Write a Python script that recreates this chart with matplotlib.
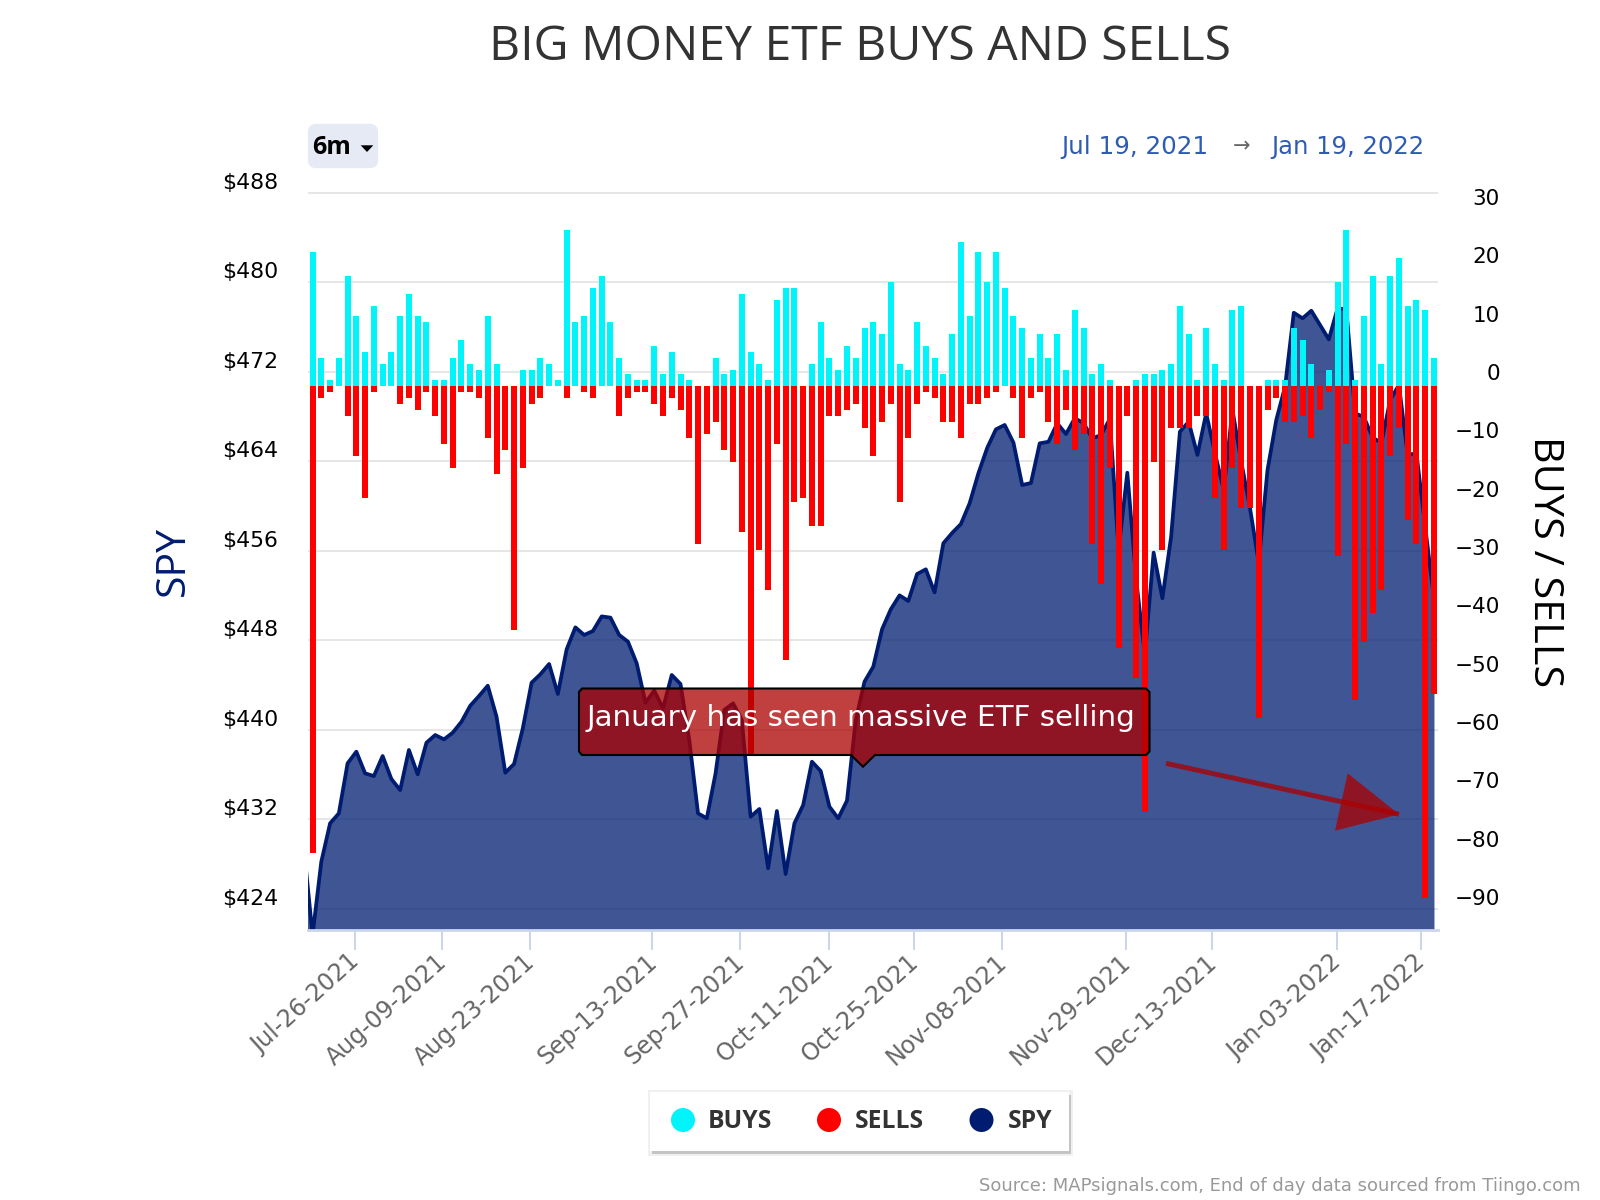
import matplotlib
matplotlib.use("Agg")
import matplotlib.pyplot as plt
from matplotlib.patches import Rectangle, FancyBboxPatch, Polygon, Circle
from matplotlib.transforms import ScaledTranslation
import numpy as np

buys = [23, 4.8, 1, 4.8, 18.9, 12, 5.8, 13.7, 3.8, 5.8, 12, 15.8, 12, 11, 1, 1, 4.8, 7.9, 3.8, 2.7,
        12, 3.8, 0, 0, 2.7, 2.7, 4.8, 3.8, 1, 26.7, 11, 12, 16.8, 18.9, 11, 4.8, 2, 1, 1, 6.9,
        2, 5.8, 2, 1, 0, 0, 4.8, 2, 2.7, 15.8, 5.8, 3.8, 1, 14.7, 16.8, 16.8, 0, 3.8, 11, 4.8,
        2.7, 6.9, 4.8, 9.9, 11, 8.9, 17.8, 3.8, 2.7, 11, 6.9, 4.8, 2, 8.9, 24.7, 12, 23, 17.8, 23, 16.8,
        12, 9.9, 4.8, 8.9, 4.8, 8.9, 2.7, 13, 9.9, 2, 3.8, 1, 0, 0, 1, 2, 2, 2.7, 3.8, 13.7,
        8.9, 1, 9.9, 3.8, 1, 13, 13.7, 0, 0, 1, 1, 1, 9.9, 7.9, 3.8, 0, 2.7, 17.8, 26.7, 1,
        12, 18.9, 3.8, 18.9, 21.9, 13.7, 14.7, 13, 4.8]

sells = [-80, -2, -1, 0, -5.1, -12, -19.2, -1, 0, 0, -3.1, -2, -4.1, -1, -5.1, -9.9, -14.1, -1, -1, -2,
         -8.9, -15.1, -11, -41.9, -14.1, -3.1, -2, 0, 0, -2, 0, -1, -2, 0, 0, -5.1, -2, -1, -1, -3.1,
         -5.1, -2, -4.1, -8.9, -27.1, -8.2, -6.2, -11, -13, -25, -63.2, -28.1, -35, -9.9, -47, -19.9, -19.2, -24, -24, -5.1,
         -5.1, -4.1, -3.1, -7.2, -12, -6.2, -3.1, -19.9, -8.9, -3.1, -1, -2, -6.2, -6.2, -8.9, -3.1, -3.1, -2, -1, 0,
         -2, -8.9, -2, -1, -6.2, -9.9, -4.1, -11, -8.2, -27.1, -34, -14.1, -45, -5.1, -50, -73.1, -13, -28.1, -7.2, -7.2,
         -7.2, -5.1, -5.1, -19.2, -28.1, -14.1, -20.9, -20.9, -56.9, -4.1, -2, -6.2, -6.2, -5.1, -8.9, -4.1, -1, -29.1, -9.9, -53.8,
         -43.9, -39, -35, -12, -7.2, -23, -27.1, -87.8, -52.8]

# first value is the day before the window, only its segment shows at the left edge
spy = [429.5, 421.63, 428.19, 431.62, 432.51, 436.99, 438.03, 436.09, 435.85, 437.64, 435.58, 434.60, 438.18,
       436.00, 438.83, 439.52, 439.13, 439.73, 440.71, 442.14, 443.01, 443.93, 441.16, 436.15, 436.93, 440.12,
       444.20, 444.95, 445.87, 443.19, 447.18, 449.15, 448.47, 448.82, 450.13, 450.02, 448.47, 447.87, 445.93,
       442.41, 443.49, 441.91, 444.89, 444.08, 439.07, 432.51, 432.07, 436.09, 441.76, 442.35, 440.86, 432.22,
       432.90, 427.60, 432.72, 427.09, 431.62, 433.26, 437.13, 436.30, 433.11, 432.07, 433.65, 440.86, 444.29,
       445.63, 448.97, 450.76, 452.01, 451.51, 453.92, 454.34, 452.28, 456.67, 457.59, 458.39, 460.25, 462.93,
       465.19, 466.86, 467.25, 465.67, 461.88, 462.06, 465.61, 465.75, 467.40, 466.44, 467.85, 467.43, 466.06,
       466.35, 467.79, 456.07, 462.98, 453.50, 446.68, 455.83, 451.75, 457.26, 466.65, 467.54, 464.57, 468.30,
       464.74, 461.44, 468.59, 463.97, 459.82, 454.91, 463.22, 467.70, 470.67, 477.29, 476.79, 477.47, 476.19,
       474.91, 477.69, 477.60, 468.30, 467.96, 466.13, 465.64, 469.48, 470.83, 464.57, 464.72, 458.15, 451.75]

spy_ticks = [488, 480, 472, 464, 456, 448, 440, 432, 424]
flow_ticks = [30, 20, 10, 0, -10, -20, -30, -40, -50, -60, -70, -80, -90]

date_pos = [4.8, 14.8, 24.85, 38.8, 48.8, 58.9, 68.7, 78.7, 92.9, 102.7, 116.9, 126.5]
date_labels = ["Jul-26-2021", "Aug-09-2021", "Aug-23-2021", "Sep-13-2021", "Sep-27-2021", "Oct-11-2021",
               "Oct-25-2021", "Nov-08-2021", "Nov-29-2021", "Dec-13-2021", "Jan-03-2022", "Jan-17-2022"]

CYAN = "#00f4fa"
RED = "#ff0000"
NAVY = "#001c70"
AXIS = "#ccd6eb"
NOTE = "#ab0000"

plt.rcParams["font.family"] = ["DejaVu Sans"]
fig = plt.figure(figsize=(16, 12), dpi=100)

ax = fig.add_axes([308 / 1600, 1 - 930 / 1200, 1130 / 1600, 738 / 1200])
ax2 = ax.twinx()

days = np.arange(len(buys))
spy_days = np.arange(len(spy)) - 1
ax.set_xlim(-0.52, 128.46)
ax.set_ylim(422.08, 488.09)
ax2.set_ylim(-93.26, 33.26)

ax.set_yticks(spy_ticks)
ax.set_yticklabels(["$%d" % t for t in spy_ticks])
ax.grid(axis="y", color="#e6e6e6", lw=1.44, zorder=0)
ax.set_axisbelow(True)
ax.fill_between(spy_days, spy, 400, color=NAVY, alpha=0.75, lw=0, zorder=2)
ax.plot(spy_days, spy, color=NAVY, lw=2.7, zorder=3)

ax2.bar(days, buys, width=0.685, color=CYAN, zorder=4)
ax2.bar(days, sells, width=0.685, color=RED, zorder=4)
ax2.set_yticks(flow_ticks)
ax2.set_yticklabels([str(t).replace("-", "\u2212") for t in flow_ticks])

for a in (ax, ax2):
    for s in a.spines.values():
        s.set_visible(False)
ax.spines["bottom"].set_visible(True)
ax.spines["bottom"].set_color(AXIS)
ax.spines["bottom"].set_linewidth(2)
ax.spines["bottom"].set_zorder(6)

ax.set_xticks(date_pos)
ax.set_xticklabels(date_labels, rotation=42, ha="right", va="top", rotation_mode="anchor", color="#666666", fontsize=17)
ax.tick_params(axis="x", length=14.4, width=1.44, color=AXIS, pad=2)
ax.tick_params(axis="y", length=0, labelsize=15.8, pad=21.5, labelcolor="black")
ax2.tick_params(axis="y", length=0, labelsize=15.5, pad=44.6, labelcolor="black")

# labels sit above their gridlines in the original
for lab in ax.get_yticklabels():
    lab.set_transform(lab.get_transform() + ScaledTranslation(0, 12 / 100, fig.dpi_scale_trans))
for lab in ax2.get_yticklabels():
    lab.set_ha("right")
    lab.set_transform(lab.get_transform() + ScaledTranslation(0, 14 / 100, fig.dpi_scale_trans))
for lab in ax.get_xticklabels():
    lab.set_transform(lab.get_transform() + ScaledTranslation(-7 / 100, 3 / 100, fig.dpi_scale_trans))

ax.set_ylabel("SPY", family="Open Sans", fontsize=29.5, color=NAVY, va="center")
ax.yaxis.set_label_coords((174 - 308) / 1130, 0.5)
ax2.set_ylabel("BUYS / SELLS", family="Open Sans", fontsize=29.8, color="black", rotation=270, va="center")
ax2.yaxis.set_label_coords((1544 - 308) / 1130, 0.4986)

fig.suptitle("BIG MONEY ETF BUYS AND SELLS", family="Open Sans", fontsize=34.7, color="#333333",
             x=860 / 1600, y=1 - 47 / 1200, va="center")

# everything else is placed in pixels of the picture
over = fig.add_axes([0, 0, 1, 1], zorder=10)
over.set_xlim(0, 1600)
over.set_ylim(1200, 0)
over.axis("off")

# range dropdown and dates
over.add_patch(FancyBboxPatch((312, 128), 62, 36, boxstyle="round,pad=0,rounding_size=4", fc="#e6eaf5", ec="#e6eaf5", lw=6))
over.text(312.5, 148, "6m", family="Open Sans", weight="bold", fontsize=18, color="black", ha="left", va="center")
over.add_patch(Polygon([(360.7, 145.3), (373.3, 145.3), (367, 152)], fc="black", ec="none"))
over.text(1061, 147, "Jul 19, 2021", fontsize=17.7, color="#2f5cb0", ha="left", va="center")
over.text(1242, 146, "\u2192", fontsize=15, color="#666666", ha="center", va="center")
over.text(1271, 147, "Jan 19, 2022", fontsize=17.5, color="#2f5cb0", ha="left", va="center")

# annotation box with its pointer
box = [(582, 688.5), (1146, 688.5), (1149.5, 692), (1149.5, 751.5), (1146, 755), (875, 755), (863, 766.7),
       (851, 755), (582, 755), (579, 751.5), (579, 692)]
over.add_patch(Polygon(box, closed=True, fc=NOTE, ec="none", alpha=0.75))
over.add_patch(Polygon(box, closed=True, fc="none", ec="black", lw=1.5))
over.text(861, 718, "January has seen massive ETF selling", fontsize=21.2, color="white", ha="center", va="center")

# arrow, shaft and head overlap so the overlap goes darker
over.plot([1166, 1399], [763.3, 814.3], color=NOTE, alpha=0.75, lw=3.6, solid_capstyle="butt")
over.add_patch(Polygon([(1347.7, 773.3), (1399, 814.3), (1335, 830.7)], fc=NOTE, ec="none", alpha=0.75))

# legend
over.add_patch(Rectangle((648, 1090), 425, 66, fc="#f0f0f0", ec="none"))
over.add_patch(Rectangle((652, 1095), 419, 59, fc="#c4c4c4", ec="none"))
over.add_patch(Rectangle((650, 1092), 419, 59, fc="white", ec="none"))
for cx, col, name, tx in [(683, CYAN, "BUYS", 708), (829, RED, "SELLS", 854.5), (981.5, NAVY, "SPY", 1007.5)]:
    over.add_patch(Circle((cx, 1120), 12, fc=col, ec="none"))
    over.text(tx, 1122, name, family="Open Sans", weight="bold", fontsize=17.7, color="#333333", ha="left", va="center")

over.text(1581, 1186, "Source: MAPsignals.com, End of day data sourced from Tiingo.com", fontsize=13, color="#999999",
          ha="right", va="center")

fig.savefig("out.png", dpi=100)
